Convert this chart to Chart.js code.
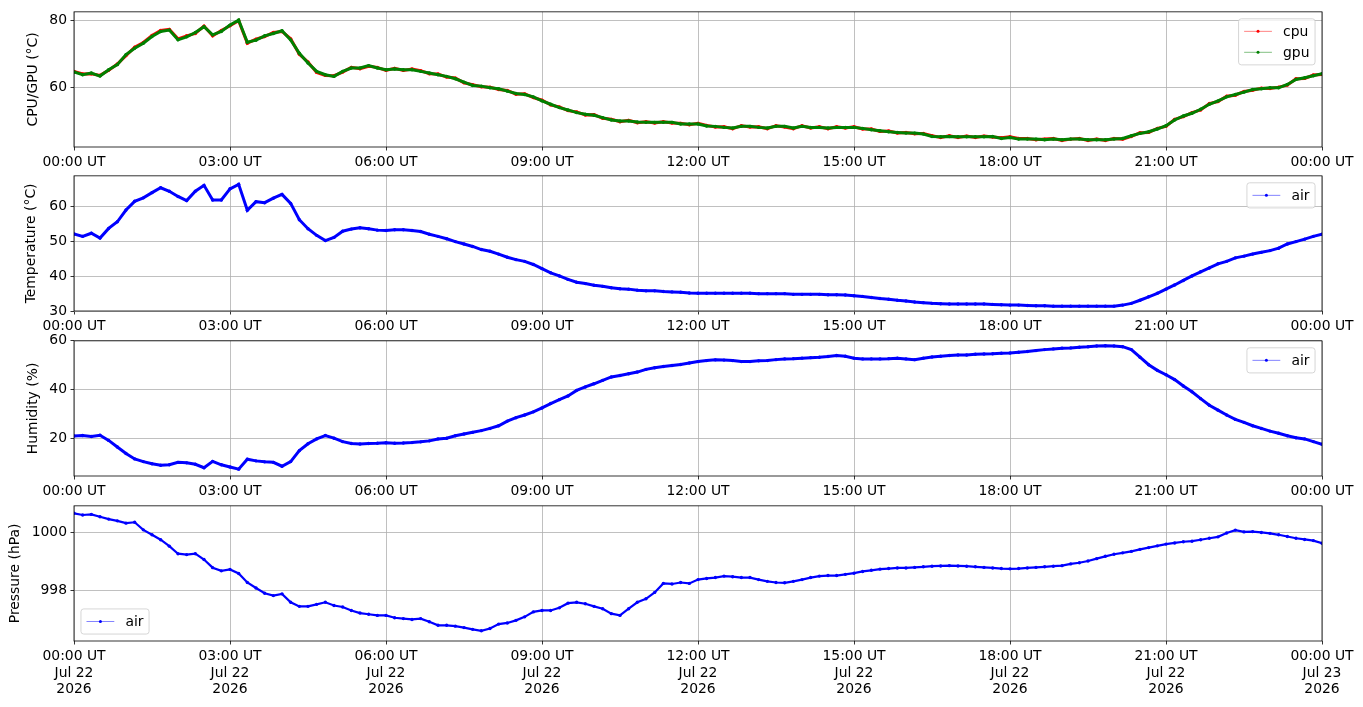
<!DOCTYPE html>
<html>
<head>
<meta charset="utf-8">
<script src="https://cdn.jsdelivr.net/npm/chart.js@4.4.1/dist/chart.umd.min.js"></script>
<style>
  html, body { margin: 0; background: #fff; }
  #wrap { position: relative; width: 1363px; height: 707px; overflow: hidden; }
  .panel { position: absolute; left: 0; width: 1363px; }
</style>
</head>
<body>
<div id="wrap">
  <div class="panel" id="p1"><canvas id="c1"></canvas></div>
  <div class="panel" id="p2"><canvas id="c2"></canvas></div>
  <div class="panel" id="p3"><canvas id="c3"></canvas></div>
  <div class="panel" id="p4"><canvas id="c4"></canvas></div>
</div>
<script>
// sample times, minutes after 00:00 UT Jul 22 2026
const minutes = [
  0, 10, 20, 30, 40, 50, 60, 70, 80, 90,
  100, 110, 120, 130, 140, 150, 160, 170, 180, 190,
  200, 210, 220, 230, 240, 250, 260, 270, 280, 290,
  300, 310, 320, 330, 340, 350, 360, 370, 380, 390,
  400, 410, 420, 430, 440, 450, 460, 470, 480, 490,
  500, 510, 520, 530, 540, 550, 560, 570, 580, 590,
  600, 610, 620, 630, 640, 650, 660, 670, 680, 690,
  700, 710, 720, 730, 740, 750, 760, 770, 780, 790,
  800, 810, 820, 830, 840, 850, 860, 870, 880, 890,
  900, 910, 920, 930, 940, 950, 960, 970, 980, 990,
  1000, 1010, 1020, 1030, 1040, 1050, 1060, 1070, 1080, 1090,
  1100, 1110, 1120, 1130, 1140, 1150, 1160, 1170, 1180, 1190,
  1200, 1210, 1220, 1230, 1240, 1250, 1260, 1270, 1280, 1290,
  1300, 1310, 1320, 1330, 1340, 1350, 1360, 1370, 1380, 1390,
  1400, 1410, 1420, 1430, 1440
];

const cpuTemp = [
  64.7, 63.9, 64.0, 63.5, 65.0, 66.9, 69.4, 71.9, 73.3, 75.4,
  76.9, 77.2, 74.4, 75.3, 76.0, 78.2, 75.3, 76.9, 78.3, 79.8,
  73.1, 74.3, 75.1, 76.3, 76.6, 74.4, 69.8, 67.5, 64.4, 63.5,
  63.4, 64.5, 65.9, 65.5, 66.2, 65.9, 65.0, 65.6, 65.0, 65.4,
  64.9, 64.0, 63.9, 63.0, 62.7, 61.3, 60.7, 60.1, 60.0, 59.3,
  59.0, 57.9, 58.0, 56.9, 56.1, 54.7, 54.1, 53.0, 52.6, 51.7,
  51.8, 50.7, 50.4, 49.7, 50.1, 49.4, 49.7, 49.3, 49.7, 49.3,
  49.2, 48.8, 49.2, 48.6, 48.1, 48.2, 47.6, 48.5, 48.1, 48.2,
  47.6, 48.5, 48.1, 47.6, 48.5, 47.8, 48.2, 47.6, 48.2, 47.8,
  48.2, 47.5, 47.5, 46.8, 46.9, 46.3, 46.5, 46.1, 46.2, 45.5,
  45.0, 45.5, 45.0, 45.4, 45.0, 45.4, 45.1, 44.9, 45.2, 44.7,
  44.7, 44.3, 44.5, 44.7, 44.1, 44.5, 44.7, 44.1, 44.5, 44.1,
  44.7, 44.5, 45.3, 46.4, 46.5, 47.7, 48.3, 50.4, 51.2, 52.4,
  53.2, 55.1, 55.7, 57.3, 57.6, 58.7, 59.1, 59.7, 59.6, 60.0,
  60.6, 62.5, 62.6, 63.6, 63.8
];

const gpuTemp = [
  64.5, 63.7, 64.2, 63.3, 65.2, 66.7, 69.7, 71.6, 73.1, 75.1,
  76.6, 77.0, 74.1, 75.0, 76.3, 78.0, 75.6, 76.6, 78.5, 80.0,
  73.4, 74.0, 75.3, 76.0, 76.8, 74.1, 70.1, 67.2, 64.7, 63.7,
  63.2, 64.7, 65.7, 65.7, 66.4, 65.7, 65.2, 65.4, 65.2, 65.2,
  64.7, 64.2, 63.7, 63.2, 62.5, 61.5, 60.5, 60.3, 59.8, 59.5,
  58.8, 58.1, 57.8, 57.1, 55.9, 54.9, 53.9, 53.2, 52.4, 51.9,
  51.6, 50.9, 50.2, 49.9, 49.9, 49.6, 49.5, 49.5, 49.5, 49.5,
  49.0, 49.0, 49.0, 48.4, 48.3, 48.0, 47.8, 48.3, 48.3, 48.0,
  47.8, 48.3, 48.3, 47.8, 48.3, 48.0, 48.0, 47.8, 48.0, 48.0,
  48.0, 47.7, 47.3, 47.0, 46.7, 46.5, 46.3, 46.3, 46.0, 45.3,
  45.2, 45.3, 45.2, 45.2, 45.2, 45.2, 45.3, 44.7, 45.0, 44.5,
  44.5, 44.5, 44.3, 44.5, 44.3, 44.5, 44.5, 44.3, 44.3, 44.3,
  44.5, 44.7, 45.5, 46.2, 46.7, 47.5, 48.5, 50.2, 51.4, 52.2,
  53.4, 54.9, 55.9, 57.1, 57.8, 58.5, 59.3, 59.5, 59.8, 59.8,
  60.8, 62.3, 62.8, 63.4, 64.0
];

const airTemp = [
  52.2, 51.5, 52.4, 51.0, 53.8, 55.7, 59.1, 61.6, 62.6, 64.1,
  65.5, 64.5, 63.0, 61.8, 64.5, 66.2, 62.0, 62.0, 65.2, 66.5,
  59.0, 61.5, 61.2, 62.5, 63.6, 61.0, 56.3, 53.7, 51.8, 50.3,
  51.2, 53.0, 53.6, 54.0, 53.7, 53.3, 53.2, 53.4, 53.4, 53.2,
  52.9, 52.1, 51.5, 50.8, 50.0, 49.3, 48.6, 47.7, 47.2, 46.4,
  45.5, 44.8, 44.3, 43.4, 42.2, 41.0, 40.1, 39.1, 38.3, 37.9,
  37.4, 37.1, 36.7, 36.4, 36.3, 36.0, 35.8, 35.8, 35.6, 35.5,
  35.4, 35.2, 35.1, 35.1, 35.1, 35.1, 35.1, 35.1, 35.1, 35.0,
  35.0, 35.0, 35.0, 34.8, 34.8, 34.8, 34.8, 34.7, 34.7, 34.6,
  34.4, 34.2, 33.9, 33.6, 33.4, 33.1, 32.9, 32.6, 32.4, 32.2,
  32.1, 32.0, 32.0, 32.0, 32.0, 32.0, 31.9, 31.8, 31.7, 31.7,
  31.6, 31.5, 31.5, 31.4, 31.4, 31.4, 31.4, 31.4, 31.4, 31.4,
  31.4, 31.7, 32.2, 33.1, 34.1, 35.1, 36.3, 37.5, 38.8, 40.1,
  41.3, 42.4, 43.6, 44.3, 45.3, 45.8, 46.4, 46.9, 47.4, 48.1,
  49.3, 50.0, 50.7, 51.5, 52.1
];

const airHumidity = [
  21.0, 21.2, 20.8, 21.3, 19.2, 16.5, 13.8, 11.6, 10.5, 9.6,
  9.0, 9.2, 10.2, 10.0, 9.4, 8.0, 10.6, 9.2, 8.3, 7.4,
  11.5, 10.8, 10.4, 10.2, 8.6, 10.5, 15.0, 17.8, 19.8, 21.2,
  20.1, 18.7, 17.9, 17.7, 17.9, 18.0, 18.2, 18.0, 18.1, 18.3,
  18.6, 19.0, 19.8, 20.1, 21.1, 21.8, 22.5, 23.2, 24.1, 25.2,
  27.1, 28.5, 29.6, 30.9, 32.5, 34.3, 35.9, 37.4, 39.7, 41.1,
  42.4, 43.8, 45.2, 45.8, 46.5, 47.2, 48.3, 49.0, 49.5, 49.9,
  50.3, 50.9, 51.5, 51.9, 52.2, 52.1, 51.9, 51.5, 51.5, 51.8,
  51.9, 52.3, 52.6, 52.7, 52.9, 53.1, 53.3, 53.6, 54.0, 53.7,
  52.9, 52.6, 52.6, 52.6, 52.7, 52.9, 52.6, 52.3, 52.9, 53.4,
  53.7, 54.0, 54.2, 54.2, 54.5, 54.6, 54.7, 54.9, 55.0, 55.3,
  55.6, 56.0, 56.4, 56.7, 57.0, 57.1, 57.4, 57.6, 57.9, 58.0,
  57.9, 57.6, 56.4, 53.3, 50.2, 47.9, 46.1, 44.1, 41.5, 39.1,
  36.3, 33.6, 31.6, 29.6, 27.8, 26.6, 25.2, 24.1, 23.0, 22.1,
  21.1, 20.3, 19.8, 18.7, 17.6
];

const airPressure = [
  1000.66, 1000.60, 1000.62, 1000.54, 1000.46, 1000.40, 1000.32, 1000.35, 1000.09, 999.92,
  999.75, 999.53, 999.27, 999.24, 999.27, 999.07, 998.79, 998.68, 998.73, 998.59,
  998.28, 998.09, 997.91, 997.83, 997.89, 997.60, 997.46, 997.46, 997.53, 997.60,
  997.49, 997.44, 997.32, 997.23, 997.19, 997.15, 997.15, 997.07, 997.04, 997.01,
  997.04, 996.93, 996.81, 996.81, 996.78, 996.73, 996.67, 996.62, 996.70, 996.85,
  996.89, 996.98, 997.10, 997.27, 997.32, 997.32, 997.41, 997.57, 997.60, 997.55,
  997.46, 997.38, 997.21, 997.15, 997.38, 997.60, 997.72, 997.94, 998.25, 998.23,
  998.28, 998.25, 998.38, 998.42, 998.45, 998.50, 998.48, 998.45, 998.45, 998.38,
  998.32, 998.28, 998.27, 998.32, 998.38, 998.45, 998.50, 998.52, 998.52, 998.56,
  998.60, 998.66, 998.70, 998.74, 998.76, 998.78, 998.78, 998.80, 998.82, 998.84,
  998.85, 998.86, 998.85, 998.84, 998.82, 998.80, 998.78, 998.76, 998.75, 998.76,
  998.78, 998.80, 998.82, 998.84, 998.86, 998.92, 998.96, 999.02, 999.10, 999.18,
  999.25, 999.30, 999.35, 999.42, 999.48, 999.54, 999.60, 999.64, 999.68, 999.70,
  999.75, 999.80, 999.85, 999.98, 1000.08, 1000.02, 1000.03, 1000.00, 999.97, 999.92,
  999.86, 999.80, 999.76, 999.72, 999.63
];

// axis ticks
const xTickMinutes = [0, 180, 360, 540, 720, 900, 1080, 1260, 1440];
const xTickLabels = ['00:00 UT', '03:00 UT', '06:00 UT', '09:00 UT', '12:00 UT',
                     '15:00 UT', '18:00 UT', '21:00 UT', '00:00 UT'];
const xTickDates = ['Jul 22', 'Jul 22', 'Jul 22', 'Jul 22', 'Jul 22',
                    'Jul 22', 'Jul 22', 'Jul 22', 'Jul 23'];
const xTickYears = ['2026', '2026', '2026', '2026', '2026', '2026', '2026', '2026', '2026'];
const cpuTicks = [60, 80];
const tempTicks = [30, 40, 50, 60];
const humTicks = [20, 40, 60];
const presTicks = [998, 1000];

const FS = 13.9;
const FAMILY = '"DejaVu Sans", sans-serif';
Chart.defaults.font.family = FAMILY;
Chart.defaults.font.size = FS;
Chart.defaults.color = '#000';

const PLOT_LEFT = 74, PLOT_RIGHT = 1322, PLOT_H = 137, PAD_T = 10;

// black frame round the plot area, like matplotlib spines
const framePlugin = {
  id: 'frame',
  afterDatasetsDraw(chart) {
    const { ctx, chartArea: a } = chart;
    ctx.save();
    ctx.strokeStyle = '#000';
    ctx.lineWidth = 0.8;
    ctx.strokeRect(a.left, a.top, a.right - a.left, a.bottom - a.top);
    ctx.restore();
  }
};

const legendPlugin = {
  id: 'mplLegend',
  afterDraw(chart, args, opts) {
    const { ctx, chartArea: a } = chart;
    const sets = chart.data.datasets;
    const pad = 0.4 * FS, hl = 2 * FS, htp = 0.8 * FS, ls = 0.5 * FS, bap = 0.5 * FS, rowH = 14;
    ctx.save();
    ctx.font = FS + 'px ' + FAMILY;
    const tw = Math.max(...sets.map(d => ctx.measureText(d.label).width));
    const w = pad * 2 + hl + htp + tw;
    const h = pad * 2 + rowH * sets.length + ls * (sets.length - 1);
    const x = opts.loc === 'lower left' ? a.left + bap : a.right - bap - w;
    const y = opts.loc === 'lower left' ? a.bottom - bap - h : a.top + bap;
    ctx.beginPath();
    ctx.roundRect(x, y, w, h, 0.2 * FS);
    ctx.fillStyle = 'rgba(255,255,255,0.8)';
    ctx.fill();
    ctx.strokeStyle = 'rgba(204,204,204,0.8)';
    ctx.lineWidth = 1;
    ctx.stroke();
    sets.forEach((d, i) => {
      const cy = y + pad + rowH / 2 + i * (rowH + ls);
      ctx.globalAlpha = 0.7;
      ctx.strokeStyle = d.borderColor;
      ctx.lineWidth = 0.7;
      ctx.beginPath();
      ctx.moveTo(x + pad, cy);
      ctx.lineTo(x + pad + hl, cy);
      ctx.stroke();
      ctx.globalAlpha = 1;
      ctx.fillStyle = d.borderColor;
      ctx.beginPath();
      ctx.arc(x + pad + hl / 2, cy, 1.5, 0, Math.PI * 2);
      ctx.fill();
      ctx.fillStyle = '#000';
      ctx.textBaseline = 'middle';
      ctx.textAlign = 'left';
      ctx.fillText(d.label, x + pad + hl + htp, cy + 1);
    });
    ctx.restore();
  }
};

function series(label, values, color, width, radius, order) {
  return {
    label: label,
    data: minutes.map((m, i) => ({ x: m, y: values[i] })),
    borderColor: color,
    backgroundColor: color,
    pointBackgroundColor: color,
    borderWidth: width,
    pointRadius: radius,
    pointBorderWidth: 0,
    tension: 0,
    order: order || 0
  };
}

function makePanel(id, axTop, xHeight, padLeft, yOpts, datasets, legendLoc, dateTicks) {
  const box = document.getElementById('p' + id);
  box.style.top = (axTop - PAD_T) + 'px';
  box.style.height = (PAD_T + PLOT_H + xHeight) + 'px';

  new Chart(document.getElementById('c' + id), {
    type: 'line',
    data: { datasets: datasets },
    plugins: [framePlugin, legendPlugin],
    options: {
      responsive: true,
      maintainAspectRatio: false,
      animation: false,
      events: [],
      layout: { padding: { top: PAD_T, left: padLeft, right: 1363 - PLOT_RIGHT, bottom: 0 } },
      plugins: {
        legend: { display: false },
        tooltip: { enabled: false },
        mplLegend: { loc: legendLoc }
      },
      scales: {
        x: {
          type: 'linear',
          min: 0,
          max: 1440,
          afterBuildTicks: s => { s.ticks = xTickMinutes.map(v => ({ value: v })); },
          afterFit: s => { s.height = xHeight; },
          ticks: {
            autoSkip: false,
            maxRotation: 0,
            padding: 3.5,
            callback: (v, i) => dateTicks ? [xTickLabels[i], xTickDates[i], xTickYears[i]] : xTickLabels[i]
          },
          grid: { color: '#b0b0b0', lineWidth: 0.8, tickLength: 3.5, tickColor: '#000', tickWidth: 0.8 },
          border: { display: false }
        },
        y: {
          type: 'linear',
          min: yOpts.min,
          max: yOpts.max,
          afterBuildTicks: s => { s.ticks = yOpts.ticks.map(v => ({ value: v })); },
          afterFit: s => { s.width = PLOT_LEFT - padLeft; },
          ticks: { padding: 3.5, callback: v => String(v) },
          title: { display: true, text: yOpts.title, padding: 0, font: { size: FS } },
          grid: { color: '#b0b0b0', lineWidth: 0.8, tickLength: 3.5, tickColor: '#000', tickWidth: 0.8 },
          border: { display: false }
        }
      }
    }
  });
}

// cpu gets the higher order so it is drawn first, under gpu
makePanel(1, 10, 27, 25,
  { min: 42.15, max: 82.45, ticks: cpuTicks, title: 'CPU/GPU (°C)' },
  [series('cpu', cpuTemp, '#ff0000', 3, 1.7, 1), series('gpu', gpuTemp, '#008000', 3, 1.7, 0)],
  'upper right', false);

makePanel(2, 174, 27, 23.4,
  { min: 30, max: 68.94, ticks: tempTicks, title: 'Temperature (°C)' },
  [series('air', airTemp, '#0000ff', 3, 1.7)],
  'upper right', false);

makePanel(3, 339, 27, 25,
  { min: 4.6, max: 60, ticks: humTicks, title: 'Humidity (%)' },
  [series('air', airHumidity, '#0000ff', 3, 1.7)],
  'upper right', false);

makePanel(4, 504, 66, 6.7,
  { min: 996.27, max: 1000.915, ticks: presTicks, title: 'Pressure (hPa)' },
  [series('air', airPressure, '#0000ff', 2.2, 1.7)],
  'lower left', true);
</script>
</body>
</html>
